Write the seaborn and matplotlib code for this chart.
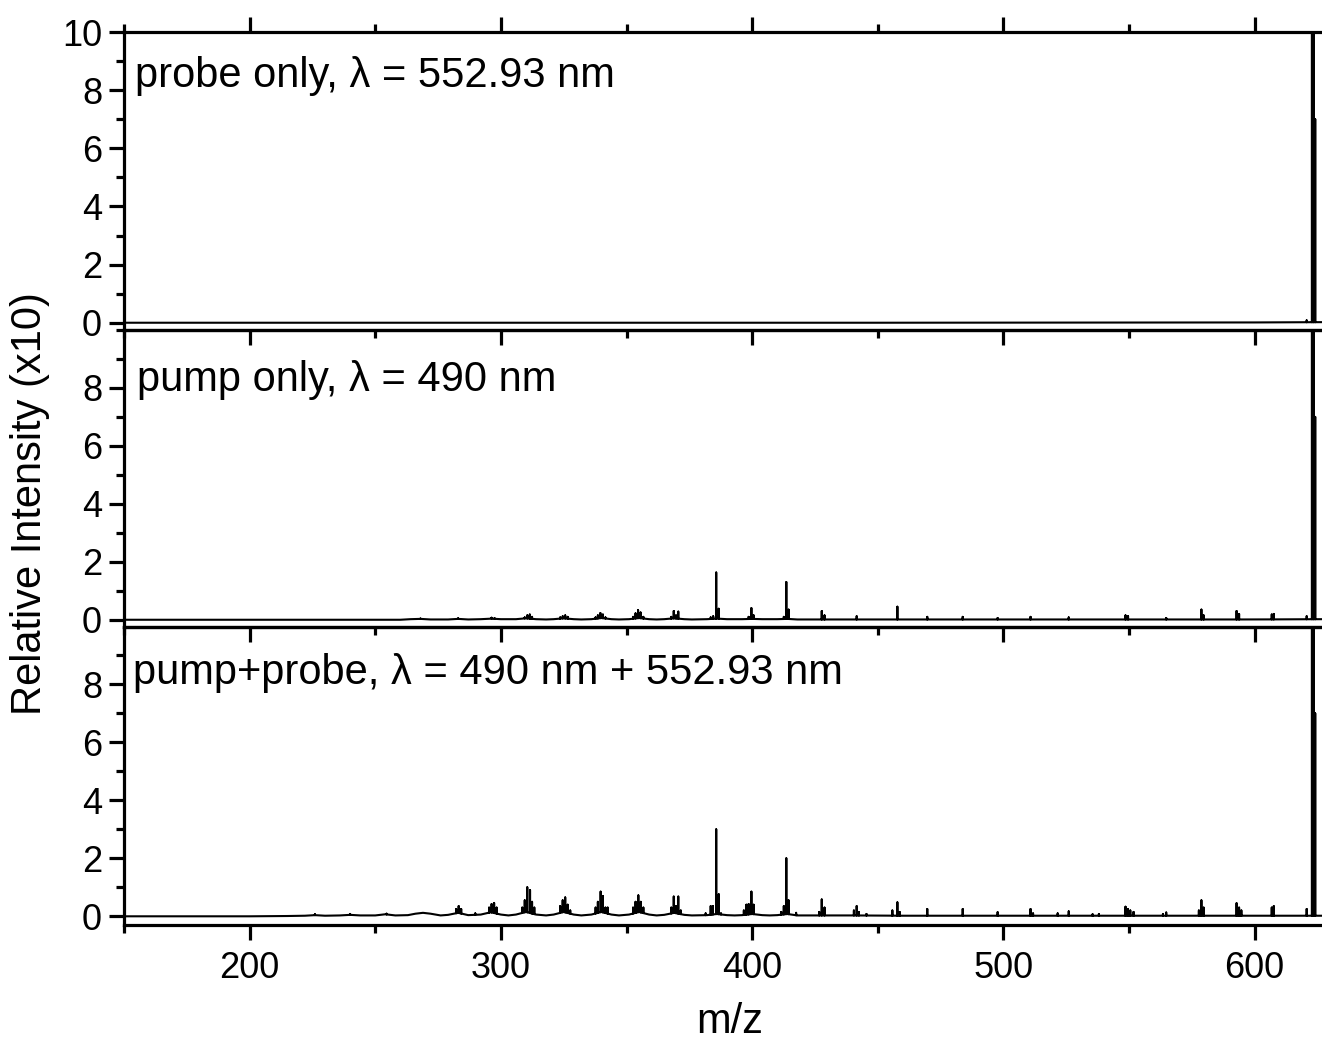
import numpy as np
import pandas as pd
import matplotlib
matplotlib.use("Agg")
import matplotlib.pyplot as plt
import seaborn as sns
from matplotlib.ticker import MultipleLocator

# ---------------- data ----------------
panel_labels = ["probe only, λ = 552.93 nm",
                "pump only, λ = 490 nm",
                "pump+probe, λ = 490 nm + 552.93 nm"]

# baseline envelopes (m/z, level)
probe_base_mz = [150, 300, 450, 600, 626.8]
probe_base_y = [0.0, 0.0, 0.0, 0.01, 0.02]

pump_base_mz = [150, 240, 260, 264, 268, 272, 279, 283, 287, 292, 296, 300,
                306, 310, 314, 318, 321, 325, 329, 332, 336, 340, 344, 347,
                351, 355, 359, 362, 365, 369, 373, 376, 382, 386, 390, 396,
                400, 404, 410, 414, 418, 500, 600, 626.8]
pump_base_y = [0.0, 0.0, 0.0, 0.02, 0.03, 0.01, 0.01, 0.03, 0.01, 0.02, 0.04, 0.02,
               0.02, 0.05, 0.02, 0.01, 0.02, 0.05, 0.02, 0.01, 0.02, 0.06, 0.02, 0.01,
               0.02, 0.06, 0.02, 0.01, 0.02, 0.05, 0.02, 0.01, 0.02, 0.04, 0.02, 0.02,
               0.03, 0.02, 0.02, 0.03, 0.01, 0.01, 0.01, 0.02]

pp_base_mz = [150, 200, 215, 222, 226, 230, 236, 240, 244, 250, 254, 258,
              263, 266, 269, 272, 276, 279, 283, 287, 292, 296, 300, 303,
              306, 310, 314, 318, 321, 325, 329, 332, 336, 340, 344, 347,
              351, 355, 359, 362, 365, 369, 373, 376, 382, 386, 390, 393,
              396, 400, 404, 407, 410, 414, 418, 440, 460, 540, 626.8]
pp_base_y = [0.0, 0.0, 0.01, 0.02, 0.04, 0.02, 0.03, 0.05, 0.03, 0.03, 0.07, 0.03,
             0.04, 0.09, 0.12, 0.09, 0.03, 0.05, 0.12, 0.04, 0.06, 0.14, 0.06, 0.03,
             0.06, 0.15, 0.06, 0.03, 0.06, 0.15, 0.06, 0.03, 0.06, 0.15, 0.06, 0.03,
             0.06, 0.15, 0.06, 0.03, 0.05, 0.12, 0.05, 0.03, 0.04, 0.08, 0.04, 0.03,
             0.04, 0.08, 0.04, 0.03, 0.04, 0.08, 0.03, 0.03, 0.02, 0.02, 0.02]

# peaks (m/z, intensity x10)
probe_peak_mz = [620.7, 622.8, 623.5, 624.1]
probe_peak_y = [0.08, 100.0, 100.0, 7.0]

pump_peak_mz = [268.0, 283.0, 296.3, 297.5, 309.5, 310.5, 311.5, 312.4, 323.6,
                324.6, 325.6, 326.6, 337.7, 338.6, 339.6, 340.6, 341.6, 352.6,
                353.6, 354.6, 355.6, 356.7, 367.8, 368.8, 369.7, 370.6, 383.5,
                384.5, 385.7, 386.7, 398.6, 399.7, 400.6, 412.6, 413.6, 414.5,
                427.7, 428.8, 441.6, 457.8, 469.7, 483.8, 497.7, 510.8, 526.0,
                548.6, 549.6, 564.8, 578.8, 579.7, 592.8, 593.8, 606.8, 607.6,
                620.7, 622.8, 623.5, 624.1]
pump_peak_y = [0.04, 0.05, 0.07, 0.05, 0.08, 0.15, 0.18, 0.10, 0.08,
               0.12, 0.15, 0.10, 0.08, 0.15, 0.23, 0.18, 0.08, 0.10,
               0.22, 0.33, 0.25, 0.10, 0.10, 0.30, 0.15, 0.28, 0.08,
               0.12, 1.63, 0.38, 0.10, 0.40, 0.15, 0.10, 1.30, 0.35,
               0.30, 0.15, 0.12, 0.45, 0.10, 0.10, 0.06, 0.10, 0.08,
               0.15, 0.12, 0.06, 0.35, 0.15, 0.30, 0.20, 0.18, 0.20,
               0.12, 100.0, 100.0, 7.0]

pp_peak_mz = [226.0, 240.0, 254.5, 268.9, 282.2, 283.2, 284.2, 289.8, 295.3,
              296.3, 297.3, 298.3, 308.5, 309.5, 310.5, 311.6, 312.4, 313.3,
              323.6, 324.6, 325.6, 326.6, 327.6, 337.7, 338.6, 339.7, 340.6,
              341.6, 342.5, 352.6, 353.6, 354.7, 355.7, 356.7, 367.8, 368.8,
              369.7, 370.6, 371.6, 381.5, 383.5, 384.4, 385.7, 386.7, 387.6,
              396.7, 397.7, 398.6, 399.7, 400.6, 411.6, 412.6, 413.6, 414.5,
              417.5, 426.7, 427.7, 428.8, 440.5, 441.6, 442.5, 445.5, 455.8,
              457.8, 458.7, 469.7, 483.8, 497.7, 510.8, 511.8, 521.6, 526.0,
              535.5, 538.0, 548.6, 549.5, 550.5, 551.8, 563.5, 564.8, 577.8,
              578.8, 579.7, 592.8, 593.8, 594.7, 606.8, 607.6, 620.7, 622.8,
              623.5, 624.1]
pp_peak_y = [0.07, 0.08, 0.09, 0.12, 0.25, 0.35, 0.25, 0.10, 0.30,
             0.42, 0.46, 0.30, 0.30, 0.55, 1.00, 0.90, 0.50, 0.30,
             0.35, 0.55, 0.65, 0.40, 0.20, 0.30, 0.50, 0.85, 0.70,
             0.30, 0.30, 0.30, 0.50, 0.72, 0.50, 0.30, 0.30, 0.68,
             0.35, 0.68, 0.20, 0.10, 0.35, 0.35, 3.00, 0.76, 0.10,
             0.20, 0.40, 0.42, 0.85, 0.40, 0.15, 0.35, 2.00, 0.55,
             0.12, 0.15, 0.58, 0.30, 0.20, 0.35, 0.15, 0.08, 0.20,
             0.48, 0.15, 0.25, 0.25, 0.14, 0.25, 0.10, 0.10, 0.17,
             0.07, 0.08, 0.33, 0.25, 0.20, 0.15, 0.08, 0.13, 0.20,
             0.55, 0.30, 0.45, 0.30, 0.20, 0.30, 0.35, 0.25, 100.0,
             100.0, 7.0]

x_ticks = [200, 300, 400, 500, 600]
y_ticks = [0, 2, 4, 6, 8, 10]


def build_trace(base_mz, base_y, peak_mz, peak_y):
    """Combine baseline envelope and stick peaks into one ordered trace."""
    rows = [(m, y, 0) for m, y in zip(base_mz, base_y)]
    for m, h in zip(peak_mz, peak_y):
        b = float(np.interp(m, base_mz, base_y))
        rows += [(m, b, 0), (m, h, 1), (m, b, 2)]
    rows.sort(key=lambda r: (r[0], r[2]))
    return pd.DataFrame({"mz": [r[0] for r in rows],
                         "intensity": [r[1] for r in rows]})


traces = [build_trace(probe_base_mz, probe_base_y, probe_peak_mz, probe_peak_y),
          build_trace(pump_base_mz, pump_base_y, pump_peak_mz, pump_peak_y),
          build_trace(pp_base_mz, pp_base_y, pp_peak_mz, pp_peak_y)]

# ---------------- plot ----------------
sns.set_theme(style="ticks")
plt.rcParams["font.family"] = ["Liberation Sans", "DejaVu Sans"]
plt.rcParams["text.color"] = "black"
plt.rcParams["axes.labelcolor"] = "black"
plt.rcParams["xtick.color"] = "black"
plt.rcParams["ytick.color"] = "black"

W, H = 1322, 1044
fig = plt.figure(figsize=(W / 100, H / 100), dpi=100)

left = 124 / W
right = 1.0
tops = [32, 330, 627]
bottoms = [330, 627, 925]
text_y = [0.853, 0.830, 0.847]
text_x = [0.009, 0.011, 0.0075]
ylims = [(-0.25, 10.0), (-0.25, 10.0), (-0.3, 9.98)]

spine_w = 2.3
for i in range(3):
    ax = fig.add_axes([left, 1 - bottoms[i] / H, right - left,
                       (bottoms[i] - tops[i]) / H])
    sns.lineplot(data=traces[i], x="mz", y="intensity", ax=ax, sort=False,
                 estimator=None, color="black", linewidth=1.5)
    ax.set_xlim(150, 626.8)
    ax.set_ylim(*ylims[i])
    ax.set_xlabel("")
    ax.set_ylabel("")
    ax.set_xticks(x_ticks)
    ax.xaxis.set_minor_locator(MultipleLocator(50))
    ax.set_yticks([t for t in y_ticks if i == 0 or t < 10])
    ax.yaxis.set_minor_locator(MultipleLocator(1))
    for s in ["top", "bottom", "left"]:
        ax.spines[s].set_linewidth(spine_w)
        ax.spines[s].set_color("black")
    ax.spines["right"].set_visible(False)
    ax.tick_params(axis="x", which="both", direction="out", bottom=True,
                   top=(i == 0), labelbottom=(i == 2), labeltop=False,
                   width=spine_w, color="black", labelsize=26, pad=8)
    ax.tick_params(axis="y", which="both", direction="out", left=True,
                   right=False, width=spine_w, color="black", labelsize=26,
                   pad=5)
    ax.tick_params(which="major", length=10.8)
    ax.tick_params(which="minor", length=5.6)
    ax.patch.set_alpha(0)
    ax.text(text_x[i], text_y[i], panel_labels[i], transform=ax.transAxes,
            fontsize=30, ha="left", va="center", color="black")

fig.text(30 / W, 1 - 504 / H, "Relative Intensity (x10)", rotation=90,
         ha="center", va="center", fontsize=30)
fig.text(730 / W, 1 - 1022 / H, "m/z", ha="center", va="center", fontsize=30)

fig.savefig("out.png", dpi=100, facecolor="white")
